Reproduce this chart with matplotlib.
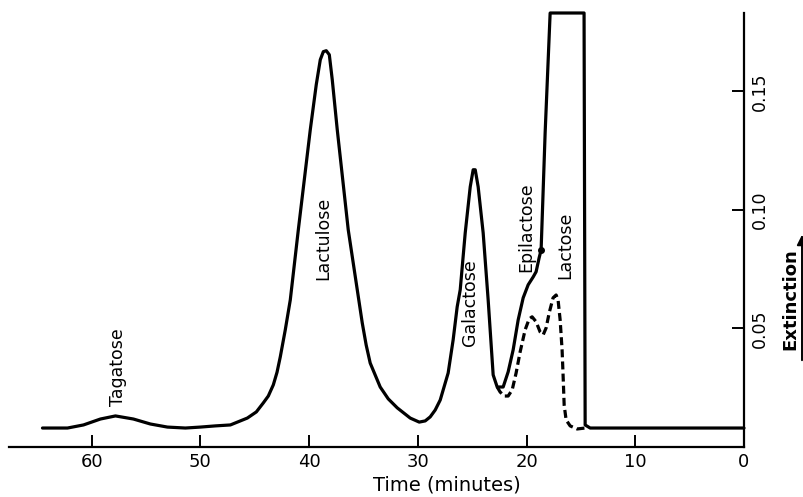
import matplotlib
matplotlib.use("Agg")
import matplotlib.pyplot as plt

# Solid chromatogram trace (time in minutes, extinction)
solid_time = [64.52, 62.22, 60.75, 59.19, 57.81, 56.16, 54.60, 53.03, 51.38, 50.00,
              48.62, 47.24, 45.68, 44.85, 44.21, 43.75, 43.29, 42.95, 42.65, 42.19,
              41.73, 40.99, 39.89, 39.34, 38.97, 38.69, 38.42, 38.14, 37.87, 37.41,
              36.40, 35.57, 35.11, 34.75, 34.38, 33.46, 32.72, 31.89, 30.70, 29.87,
              29.32, 28.86, 28.40, 27.94, 27.21, 26.75, 26.38, 26.10, 25.64, 25.18,
              24.91, 24.72, 24.45, 23.99, 23.53, 23.07, 22.70, 22.15, 21.69, 21.23,
              20.77, 20.31, 19.85, 19.39, 19.12, 18.84, 18.66, 18.29, 17.83, 14.71,
              14.61, 14.15, 0.0]
solid_ext = [0.0080, 0.0080, 0.0093, 0.0118, 0.0131, 0.0118, 0.0097, 0.0084, 0.0080,
             0.0084, 0.0089, 0.0093, 0.0122, 0.0148, 0.0186, 0.0215, 0.0262, 0.0315,
             0.0380, 0.0494, 0.0620, 0.0916, 0.1338, 0.1528, 0.1633, 0.1667, 0.1671,
             0.1654, 0.1549, 0.1338, 0.0916, 0.0663, 0.0523, 0.0430, 0.0354, 0.0253,
             0.0203, 0.0165, 0.0122, 0.0105, 0.0110, 0.0127, 0.0156, 0.0198, 0.0312,
             0.0452, 0.0591, 0.0663, 0.0903, 0.1097, 0.1169, 0.1169, 0.1097, 0.0903,
             0.0620, 0.0304, 0.0253, 0.0253, 0.0317, 0.0410, 0.0536, 0.0629, 0.0684,
             0.0717, 0.0739, 0.0798, 0.0831, 0.1325, 0.183, 0.183, 0.0093, 0.0080,
             0.0080]

# Dashed trace
dash_time = [22.70, 22.43, 22.06, 21.69, 21.32, 20.96, 20.59, 20.13, 19.76, 19.49,
             19.12, 18.75, 18.47, 18.20, 17.92, 17.56, 17.28, 17.10, 16.91, 16.73,
             16.64, 16.54, 16.36, 15.99, 15.35, 14.61]
dash_ext = [0.0253, 0.0232, 0.0215, 0.0215, 0.0241, 0.0312, 0.0401, 0.0494, 0.0540,
            0.0549, 0.0528, 0.0485, 0.0473, 0.0502, 0.0565, 0.0629, 0.0641, 0.0620,
            0.0536, 0.0409, 0.0304, 0.0177, 0.0114, 0.0089, 0.0076, 0.0080]

# Peak labels
peak_names = ["Tagatose", "Lactulose", "Galactose", "Epilactose", "Lactose"]
peak_label_time = [57.6, 38.7, 25.2, 20.0, 16.4]
peak_label_ext = [0.0336, 0.0878, 0.0608, 0.0925, 0.0852]

x_ticks = [60, 50, 40, 30, 20, 10, 0]
y_ticks = [0.05, 0.10, 0.15]
y_tick_labels = ["0.05", "0.10", "0.15"]

W, H = 804, 497
fig = plt.figure(figsize=(W / 100, H / 100), dpi=100)
ax = fig.add_axes([9 / W, 1 - 447 / H, (744 - 9) / W, (447 - 13) / H])

lw = 2.3
ax.plot(solid_time, solid_ext, color="black", lw=lw, solid_joinstyle="round",
        solid_capstyle="round", clip_on=False)
ax.plot(dash_time, dash_ext, color="black", lw=lw, dashes=(2.5, 1.3),
        dash_joinstyle="round", clip_on=False)
ax.plot([solid_time[66]], [solid_ext[66]], "o", color="black", ms=4)

for name, t, e in zip(peak_names, peak_label_time, peak_label_ext):
    ax.text(t, e, name, rotation=90, ha="center", va="center", fontsize=12.5,
            family="DejaVu Sans")

ax.set_xlim(67.6, 0)
ax.set_ylim(0, 0.183)

for s in ["left", "top"]:
    ax.spines[s].set_visible(False)
for s in ["right", "bottom"]:
    ax.spines[s].set_linewidth(1.6)

ax.set_xticks(x_ticks)
ax.set_xticklabels([str(v) for v in x_ticks], fontsize=13)
ax.tick_params(axis="x", direction="in", length=9, width=1.4, pad=4)

ax.yaxis.tick_right()
ax.set_yticks(y_ticks)
ax.set_yticklabels(y_tick_labels, rotation=90, fontsize=12.5, va="center")
ax.tick_params(axis="y", direction="in", length=9, width=1.4, pad=5)

ax.set_xlabel("Time (minutes)", fontsize=14)
ax.xaxis.set_label_coords((447 - 9) / (744 - 9), -0.065)

fig.text(790 / W, 1 - 299 / H, "Extinction", rotation=90, ha="center", va="center",
         fontsize=13, fontweight="bold")
fig.patches.append(matplotlib.patches.FancyArrowPatch(
    (802 / W, 1 - 363 / H), (802 / W, 1 - 232 / H), transform=fig.transFigure,
    arrowstyle="-|>,head_length=6,head_width=3", color="black", lw=1.4))

fig.savefig("out.png", dpi=100)
